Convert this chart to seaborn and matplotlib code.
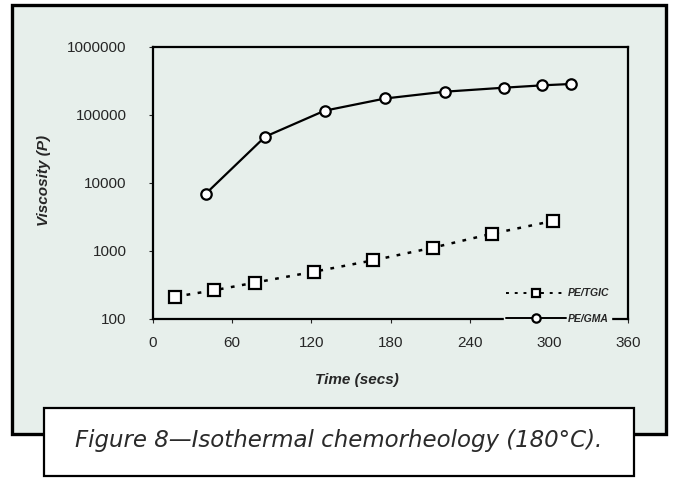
import numpy as np
import pandas as pd
import seaborn as sns
import matplotlib.pyplot as plt
from matplotlib.patches import Rectangle
from matplotlib.ticker import NullLocator, FixedLocator, FixedFormatter

sns.set_style("white")
plt.rcParams['font.family'] = ['Liberation Sans', 'DejaVu Sans']

# PE/TGIC (squares, dotted)
tgic_time = [17, 46, 77, 122, 167, 212, 257, 303]
tgic_visc = [213, 264, 342, 496, 730, 1118, 1797, 2762]
# PE/GMA (circles, solid)
gma_time = [40, 85, 130, 176, 221, 266, 295, 317]
gma_visc = [6960, 48000, 115600, 175000, 220000, 252000, 273000, 286000]

x_ticks = [0, 60, 120, 180, 240, 300, 360]
y_ticks = [100, 1000, 10000, 100000, 1000000]
y_tick_labels = ['100', '1000', '10000', '100000', '1000000']

bg = '#e7efeb'
W, H = 673, 478

fig = plt.figure(figsize=(W / 100, H / 100), dpi=100, facecolor='white')

# outer panel and caption box (pixel coords -> figure fraction)
def box(x0, y0, x1, y1, **kw):
    fig.patches.append(Rectangle((x0 / W, 1 - y1 / H), (x1 - x0) / W, (y1 - y0) / H,
                                 transform=fig.transFigure, **kw))

box(12, 5, 666, 434, facecolor=bg, edgecolor='black', linewidth=2.4, zorder=0)
box(44, 408, 634, 476, facecolor='white', edgecolor='black', linewidth=1.6, zorder=1)

ax = fig.add_axes([153 / W, 1 - 319 / H, 475 / W, 272 / H])
ax.set_zorder(2)
ax.set_facecolor(bg)

sns.lineplot(x=tgic_time, y=tgic_visc, ax=ax, color='black', linewidth=1.8,
             linestyle=(0, (1.5, 3)), marker='s', markersize=8,
             markerfacecolor='white', markeredgecolor='black', markeredgewidth=1.6,
             label='PE/TGIC')
sns.lineplot(x=gma_time, y=gma_visc, ax=ax, color='black', linewidth=1.6,
             marker='o', markersize=7.5,
             markerfacecolor='white', markeredgecolor='black', markeredgewidth=1.6,
             label='PE/GMA')

ax.set_yscale('log')
ax.set_ylim(100, 1000000)
ax.set_xlim(0, 360)
ax.yaxis.set_major_locator(FixedLocator(y_ticks))
ax.yaxis.set_major_formatter(FixedFormatter(y_tick_labels))
ax.yaxis.set_minor_locator(NullLocator())
ax.set_xticks(x_ticks)
ax.tick_params(axis='both', labelsize=11, length=3, width=0.8, direction='out',
               left=True, bottom=True)
ax.tick_params(axis='y', pad=16)
ax.tick_params(axis='x', pad=9)

for s in ax.spines.values():
    s.set_color('black')
    s.set_linewidth(1.6)

ax.set_xlabel('Time (secs)', fontsize=11, fontweight='bold', fontstyle='italic')
ax.set_ylabel('Viscosity (P)', fontsize=11, fontweight='bold', fontstyle='italic')
ax.xaxis.set_label_coords(0.43, -0.2)
ax.yaxis.set_label_coords(-0.215, 0.51)

leg = ax.legend(loc='lower right', bbox_to_anchor=(0.975, -0.045), frameon=True,
                facecolor=bg, edgecolor=bg, framealpha=1, fancybox=False,
                handlelength=5.8, handletextpad=0.1, labelspacing=1.5,
                prop={'size': 7.5, 'weight': 'bold', 'style': 'italic'},
                borderpad=0.2)
leg.set_zorder(5)
for h in leg.legend_handles:
    h.set_markersize(6)
    h.set_linewidth(1.4)

fig.text(339 / W, 1 - 441 / H, 'Figure 8\u2014Isothermal chemorheology (180\u00b0C).',
         ha='center', va='center', fontsize=16.5, fontstyle='italic',
         family=['DejaVu Sans'], color='#2a2a2a', zorder=3)

fig.savefig('out.png', dpi=100, facecolor='white')
